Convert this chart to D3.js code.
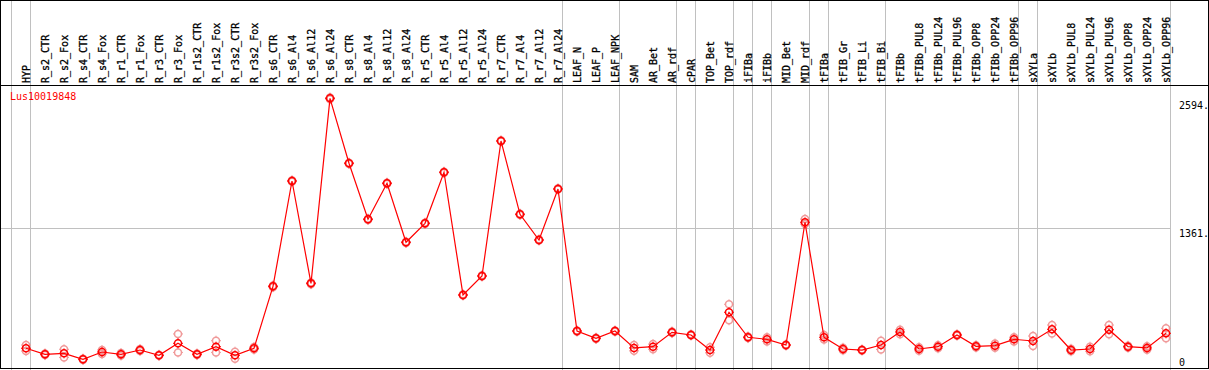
<!DOCTYPE html>
<head>
  <meta charset="utf-8">
  <script src="https://cdn.jsdelivr.net/npm/d3@7"></script>
</head>
<style>
  body { margin: 0; background: #fff; }
  text { font-family: "DejaVu Sans Mono", monospace; font-size: 10px; }
</style>
<body>
<script>

var geneName = "Lus10019848";

var samples = ["HYP", "R_s2_CTR", "R_s2_Fox", "R_s4_CTR", "R_s4_Fox", "R_r1_CTR", "R_r1_Fox",
  "R_r3_CTR", "R_r3_Fox", "R_r1s2_CTR", "R_r1s2_Fox", "R_r3s2_CTR", "R_r3s2_Fox",
  "R_s6_CTR", "R_s6_Al4", "R_s6_Al12", "R_s6_Al24", "R_s8_CTR", "R_s8_Al4", "R_s8_Al12", "R_s8_Al24",
  "R_r5_CTR", "R_r5_Al4", "R_r5_Al12", "R_r5_Al24", "R_r7_CTR", "R_r7_Al4", "R_r7_Al12", "R_r7_Al24",
  "LEAF_N", "LEAF_P", "LEAF_NPK", "SAM", "AR_Bet", "AR_rdf", "cPAR", "TOP_Bet", "TOP_rdf",
  "iFIBa", "iFIBb", "MID_Bet", "MID_rdf", "tFIBa", "tFIB_Gr", "tFIB_Li", "tFIB_Bi",
  "tFIBb", "tFIBb_PUL8", "tFIBb_PUL24", "tFIBb_PUL96", "tFIBb_OPP8", "tFIBb_OPP24", "tFIBb_OPP96",
  "sXYLa", "sXYLb", "sXYLb_PUL8", "sXYLb_PUL24", "sXYLb_PUL96", "sXYLb_OPP8", "sXYLb_OPP24", "sXYLb_OPP96"];

// mean expression per sample
var means = [200, 142, 151, 94, 164, 142, 183, 132, 248, 142, 215, 132, 200,
  797, 1813, 826, 2610, 1984, 1444, 1791, 1222, 1405, 1897, 714, 897, 2199, 1492, 1244, 1736,
  366, 296, 366, 203, 215, 354, 328, 183, 547, 306, 286, 231, 1415,
  306, 193, 183, 231, 357, 193, 215, 328, 219, 225, 286,
  270, 383, 183, 193, 379, 215, 203, 344];

// replicate values per sample
var reps = [[231, 173], [150, 134], [190, 112], [100, 88], [183, 145], [154, 130], [193, 173],
  [137, 127], [338, 160], [150, 134], [273, 160], [167, 100], [212, 188],
  [805, 789], [1820, 1806], [834, 818], [2618, 2602], [1990, 1978], [1450, 1438], [1797, 1785], [1228, 1216],
  [1411, 1399], [1903, 1891], [720, 708], [903, 891], [2205, 2193], [1498, 1486], [1250, 1238], [1742, 1730],
  [372, 360], [302, 290], [372, 360], [231, 175], [240, 190], [362, 346], [334, 322], [210, 156], [624, 470],
  [314, 298], [306, 266], [237, 225], [1446, 1398], [328, 284], [205, 181], [189, 177], [273, 189],
  [378, 336], [210, 176], [230, 200], [336, 320], [230, 208], [245, 205], [306, 266],
  [318, 222], [424, 342], [195, 171], [215, 171], [424, 334], [225, 205], [220, 186], [392, 296]];

// samples that start a new group (grid line drawn on their left)
var groupStarts = ["HYP", "R_s2_CTR", "LEAF_N", "SAM", "cPAR", "TOP_Bet", "iFIBa", "iFIBb",
  "MID_Bet", "tFIBa", "tFIB_Gr", "tFIBb", "sXYLa", "sXYLb"];

var yTicks = [0, 1361, 2594];
var yTickLabels = ["0", "1361.", "2594."];

var width = 1209, height = 370,
    headerH = 85, plotBottom = 369, plotTop = 100,
    colW = 19, firstX = 11;

var svg = d3.select("body").append("svg")
    .attr("width", width)
    .attr("height", height);

var x = d3.scaleLinear()
    .domain([0, samples.length])
    .range([firstX, firstX + colW * samples.length]);

var y = d3.scaleLinear()
    .domain([0, 2594])
    .range([plotBottom, plotTop]);

function px(i) { return x(i) + 15; }

// vertical group grid lines
var gridIdx = groupStarts.map(function(s) { return samples.indexOf(s); }).concat([samples.length]);
svg.selectAll(".vgrid")
    .data(gridIdx)
  .enter().append("line")
    .attr("x1", function(d) { return Math.round(x(d)) + 0.5; })
    .attr("x2", function(d) { return Math.round(x(d)) + 0.5; })
    .attr("y1", 0)
    .attr("y2", height)
    .style("stroke", "#c0c0c0")
    .style("stroke-width", 1)
    .style("shape-rendering", "crispEdges");

// horizontal grid line at mid tick
svg.append("line")
    .attr("x1", 0)
    .attr("x2", Math.round(x(samples.length)))
    .attr("y1", Math.round(y(1361)) + 0.5)
    .attr("y2", Math.round(y(1361)) + 0.5)
    .style("stroke", "#c0c0c0")
    .style("shape-rendering", "crispEdges");

// frame
svg.append("rect")
    .attr("x", 0.5).attr("y", 0.5)
    .attr("width", width - 1.5).attr("height", height - 2)
    .style("fill", "none")
    .style("stroke", "#000")
    .style("shape-rendering", "crispEdges");

svg.append("line")
    .attr("x1", 0).attr("x2", width)
    .attr("y1", headerH + 0.5).attr("y2", headerH + 0.5)
    .style("stroke", "#000")
    .style("shape-rendering", "crispEdges");

// sample labels (thin stroke so the underscores stay visible)
svg.selectAll(".slabel")
    .data(samples)
  .enter().append("text")
    .attr("transform", function(d, i) { return "translate(" + (px(i) + 3.5) + "," + (headerH - 2) + ") rotate(-90)"; })
    .attr("fill", "#000")
    .style("stroke", "#000")
    .style("stroke-width", 0.3)
    .text(function(d) { return d; });

// right axis labels
svg.selectAll(".ylabel")
    .data(yTicks)
  .enter().append("text")
    .attr("x", 1179)
    .attr("y", function(d, i) { return i == 0 ? 366 : y(d) + 9; })
    .attr("fill", "#000")
    .text(function(d, i) { return yTickLabels[i]; });

svg.append("text")
    .attr("x", 10)
    .attr("y", 100)
    .attr("fill", "#ff0000")
    .text(geneName);

function marker(g, color) {
  g.append("circle")
    .attr("r", 3.5)
    .style("fill", "none")
    .style("stroke", color)
    .style("stroke-width", 1.5);
  [[0, -5, 0, -3.5], [0, 3.5, 0, 5], [-5, 0, -3.5, 0], [3.5, 0, 5, 0]].forEach(function(t) {
    g.append("line")
      .attr("x1", t[0]).attr("y1", t[1]).attr("x2", t[2]).attr("y2", t[3])
      .style("stroke", color)
      .style("stroke-width", 1);
  });
}

// replicate points
var repData = [];
reps.forEach(function(r, i) { r.forEach(function(v) { repData.push({i: i, v: v}); }); });
svg.selectAll(".rep")
    .data(repData)
  .enter().append("g")
    .attr("transform", function(d) { return "translate(" + px(d.i) + "," + y(d.v) + ")"; })
    .each(function() { marker(d3.select(this), "#f09a9a"); });

// mean line
var line = d3.line()
    .x(function(d, i) { return px(i); })
    .y(function(d) { return y(d); });

svg.append("path")
    .datum(means)
    .attr("d", line)
    .style("fill", "none")
    .style("stroke", "#ff0000")
    .style("stroke-width", 1.2);

svg.selectAll(".pt")
    .data(means)
  .enter().append("g")
    .attr("transform", function(d, i) { return "translate(" + px(i) + "," + y(d) + ")"; })
    .each(function() { marker(d3.select(this), "#ff0000"); });

</script>
</body>
